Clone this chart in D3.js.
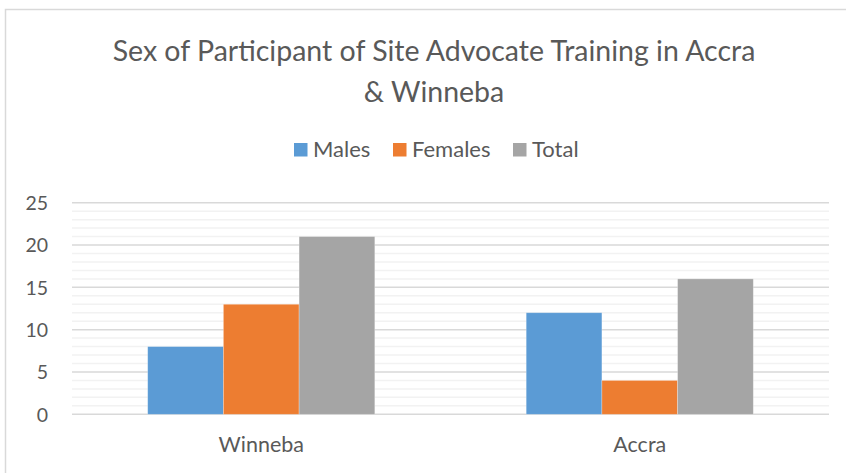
<!DOCTYPE html>
<html><head><meta charset="utf-8">
<script src="https://cdn.jsdelivr.net/npm/d3@7"></script>
<style>
html,body{margin:0;padding:0;background:#fff;}
svg{display:block;}
text{font-family:Lato,"Open Sans",sans-serif;fill:#595959;}
</style></head>
<body>
<svg id="chart" width="846" height="473"></svg>
<script>
const categories = ["Winneba", "Accra"];
const seriesNames = ["Males", "Females", "Total"];
const males = [8, 12];
const females = [13, 4];
const total = [21, 16];
const yTicks = [0, 5, 10, 15, 20, 25];
const colors = ["#5B9BD5", "#ED7D31", "#A5A5A5"];
const titleLines = ["Sex of Participant of Site Advocate Training in Accra", "& Winneba"];

const seriesValues = [males, females, total];
const svg = d3.select("#chart");

// chart border
svg.append("path").attr("d", "M5.5,480 V9.5 H850")
  .attr("fill", "none").attr("stroke", "#d9d9d9").attr("stroke-width", 1.5);

const plot = {left: 72, right: 829, top: 202.7, bottom: 414.3};
const x0 = d3.scaleBand().domain(categories).range([plot.left, plot.right]).paddingInner(0).paddingOuter(0);
const y = d3.scaleLinear().domain([0, 25]).range([plot.bottom, plot.top]);

// minor gridlines
const minor = d3.range(0, 26).filter(v => v % 5 !== 0);
svg.append("g").selectAll("line").data(minor).join("line")
  .attr("x1", plot.left).attr("x2", plot.right)
  .attr("y1", d => y(d)).attr("y2", d => y(d))
  .attr("stroke", "#f2f2f2").attr("stroke-width", 1.5);
// major gridlines
svg.append("g").selectAll("line").data(yTicks).join("line")
  .attr("x1", plot.left).attr("x2", plot.right)
  .attr("y1", d => y(d)).attr("y2", d => y(d))
  .attr("stroke", "#d9d9d9").attr("stroke-width", 1.5);

// y axis labels
const yAxis = d3.axisLeft(y).tickValues(yTicks).tickSize(0).tickPadding(0);
const yg = svg.append("g").attr("transform", `translate(48,0)`).call(yAxis);
yg.select(".domain").remove();
yg.selectAll("text").attr("font-size", 19.5).attr("fill", "#595959").attr("dy", "0.35em")
  .style("font-family", "Lato,'Open Sans',sans-serif");

// bars
const bw = x0.bandwidth() / 5;
categories.forEach((c, ci) => {
  const g = svg.append("g");
  g.selectAll("rect").data(seriesNames).join("rect")
    .attr("x", (s, si) => x0(c) + bw + si * bw)
    .attr("width", bw)
    .attr("y", (s, si) => y(seriesValues[si][ci]))
    .attr("height", (s, si) => y(0) - y(seriesValues[si][ci]))
    .attr("fill", (s, si) => colors[si])
    .attr("stroke", "#fff").attr("stroke-opacity", 0.35).attr("stroke-width", 0.75);
});

// x axis labels
const xAxis = d3.axisBottom(x0).tickSize(0).tickPadding(0);
const xg = svg.append("g").attr("transform", `translate(0,452)`).call(xAxis);
xg.select(".domain").remove();
xg.selectAll("text").attr("font-size", 21.5).attr("fill", "#595959").attr("dy", 0).attr("y", 0)
  .style("font-family", "Lato,'Open Sans',sans-serif");

// title
const cx = 434;
const t1 = svg.append("text").attr("x", cx).attr("y", 60.5).attr("text-anchor", "middle").text(titleLines[0]);
let fs = 26;
t1.attr("font-size", fs);
const w = t1.node().getComputedTextLength();
fs = fs * 643 / w;
t1.attr("font-size", fs);
svg.append("text").attr("x", cx).attr("y", 101.5).attr("text-anchor", "middle").attr("font-size", fs).text(titleLines[1]);

// legend
const legX = [294, 393, 513];
const lg = svg.append("g");
seriesNames.forEach((s, i) => {
  lg.append("rect").attr("x", legX[i]).attr("y", 143).attr("width", 13.5).attr("height", 13.5).attr("fill", colors[i]);
  lg.append("text").attr("x", legX[i] + 19).attr("y", 157).attr("font-size", 22).text(s);
});
</script>
</body></html>
